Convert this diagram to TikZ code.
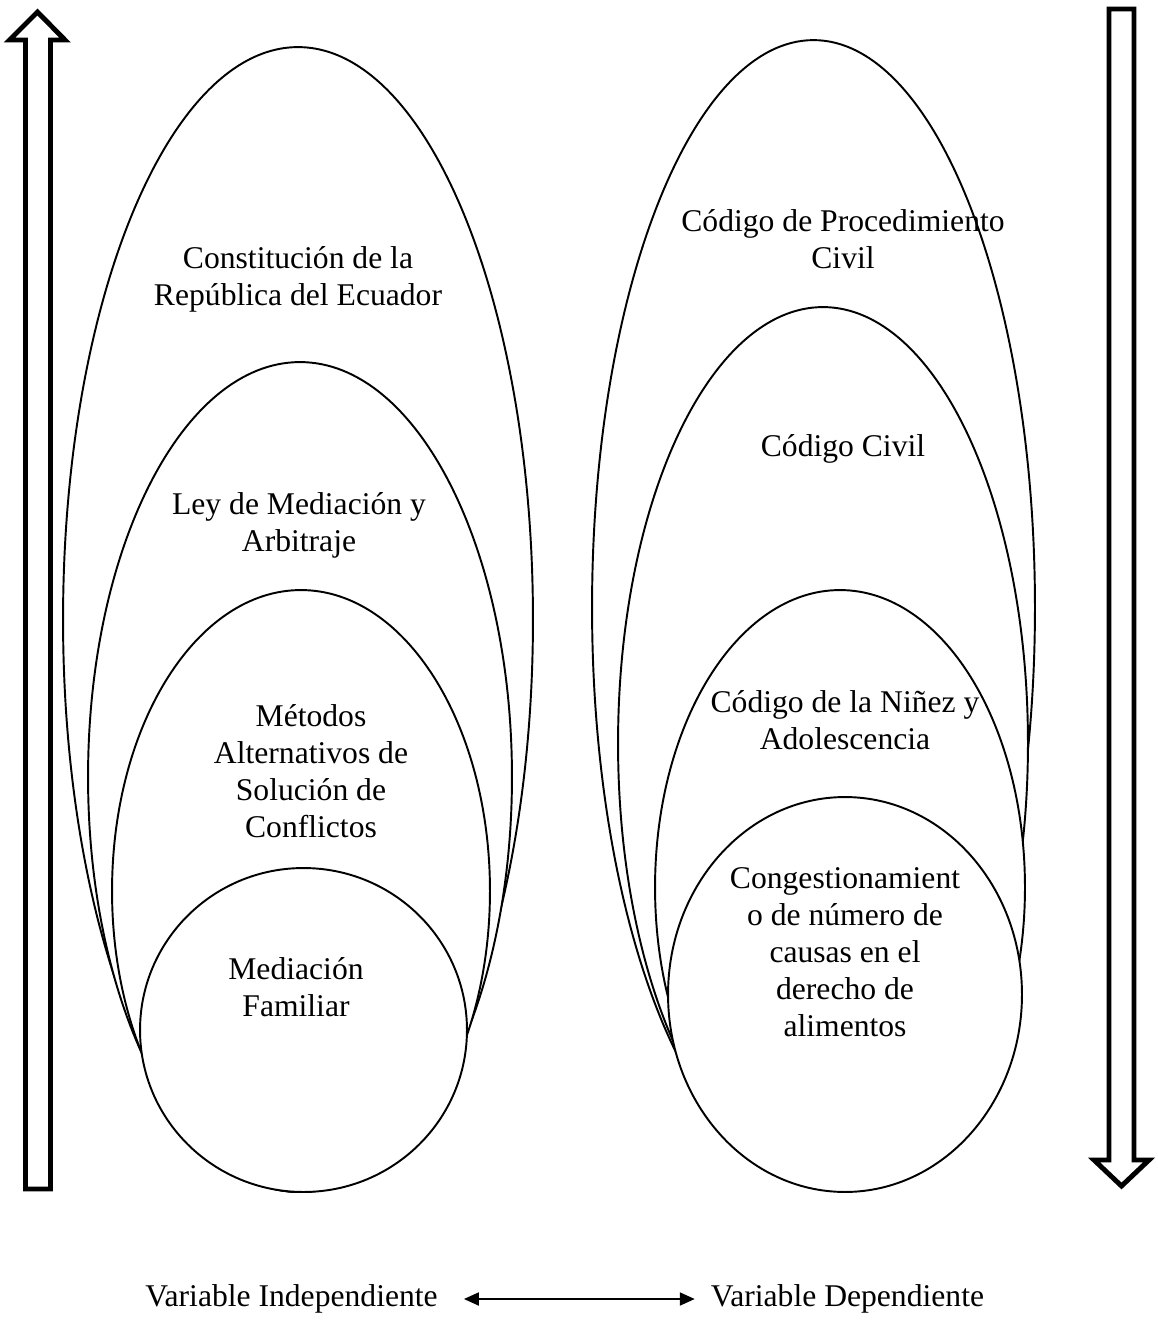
\documentclass[tikz,border=0pt]{standalone}
\usepackage{fontspec}
\setmainfont{Liberation Serif}
\usetikzlibrary{shapes.geometric,arrows.meta}

\tikzset{
  oval/.style={draw, ellipse, line width=1.1pt, fill=white, inner sep=0pt, outer sep=0pt},
  txt/.style={align=center, font=\fontsize{18}{21}\selectfont},
  bigarrow/.style={draw, line width=2.8pt, fill=white, line join=miter},
}

\begin{document}
\begin{tikzpicture}[x=0.02cm,y=-0.02cm]
        \useasboundingbox (0,0) rectangle (1157,1324);

        % Left side: nested ellipses (biggest first)
        \node[oval, minimum width=9.4cm, minimum height=22.9cm] (constitucion) at (298,619.5) {};
        \node[oval, minimum width=8.48cm, minimum height=16.6cm] (ley) at (300,777) {};
        \node[oval, minimum width=7.56cm, minimum height=12.04cm] (metodos) at (301,891) {};
        \node[oval, minimum width=6.54cm, minimum height=6.48cm] (mediacion) at (303.5,1030) {};

        \node[txt] (constitucionTxt) at (298,279) {Constitución de la\\República del Ecuador};
        \node[txt] (leyTxt) at (299,525) {Ley de Mediación y\\Arbitraje};
        \node[txt] (metodosTxt) at (311,771) {Métodos\\Alternativos de\\Solución de\\Conflictos};
        \node[txt] (mediacionTxt) at (296,987) {Mediación\\Familiar};

        % Right side: nested ellipses (biggest first)
        \node[oval, minimum width=8.86cm, minimum height=22.7cm] (procedimiento) at (813.5,607.5) {};
        \node[oval, minimum width=8.2cm, minimum height=17.46cm] (civil) at (823,743.5) {};
        \node[oval, minimum width=7.4cm, minimum height=11.9cm] (ninez) at (840,887.5) {};
        \node[oval, minimum width=7.08cm, minimum height=7.9cm] (congestion) at (845,994.5) {};

        \node[txt] (procedimientoTxt) at (843,239) {Código de Procedimiento\\Civil};
        \node[txt] (civilTxt) at (843,449) {Código Civil};
        \node[txt] (ninezTxt) at (845,720) {Código de la Niñez y\\Adolescencia};
        \node[txt] (congestionTxt) at (845,952) {Congestionamient\\o de número de\\causas en el\\derecho de\\alimentos};

        % Block arrows at the sides
        \draw[bigarrow] (25.5,1189) -- (25.5,40) -- (9.5,40) -- (37.5,12) -- (65,40) -- (50.5,40) -- (50.5,1189) -- cycle;
        \draw[bigarrow] (1109,9) -- (1109,1160) -- (1094,1160) -- (1121.5,1186) -- (1149,1160) -- (1134,1160) -- (1134,9) -- cycle;

        % Variables
        \node[txt] (indep) at (291.5,1299) {Variable Independiente};
        \node[txt] (dep) at (847.5,1299) {Variable Dependiente};
        \draw[{Triangle[length=0.3cm,width=0.26cm]}-{Triangle[length=0.3cm,width=0.26cm]}, line width=1.1pt, shorten <=0.4cm, shorten >=0.2cm] (indep) -- (dep);
\end{tikzpicture}
\end{document}
